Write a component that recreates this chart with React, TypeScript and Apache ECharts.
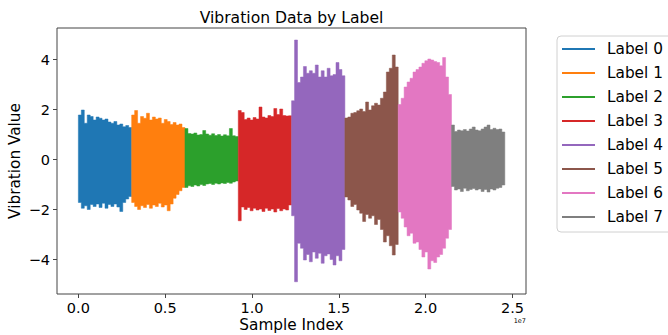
import React, { useEffect, useRef } from 'react';
import * as echarts from 'echarts';

const FONT = 'DejaVu Sans';

const labelNames = ['Label 0', 'Label 1', 'Label 2', 'Label 3', 'Label 4', 'Label 5', 'Label 6', 'Label 7'];
const labelColors = ['#1f77b4', '#ff7f0e', '#2ca02c', '#d62728', '#9467bd', '#8c564b', '#e377c2', '#7f7f7f'];

// samples per label segment
const SEGMENT_LENGTH = 3070000;

const xTickValues = [0, 5000000, 10000000, 15000000, 20000000, 25000000];
const yTickValues = [-4, -2, 0, 2, 4];

// Envelope (max / min of the vibration signal), evenly spaced along each segment
const label0Upper = [1.78, 1.98, 1.45, 1.78, 1.72, 1.58, 1.70, 1.65, 1.58, 1.62, 1.50, 1.45, 1.52, 1.38, 1.42, 1.31, 1.36, 1.28];
const label0Lower = [-1.72, -1.95, -1.85, -2.0, -1.80, -1.88, -1.78, -1.92, -1.75, -1.95, -1.80, -1.88, -1.78, -1.90, -2.08, -1.72, -1.58, -1.48];

const label1Upper = [1.78, 1.96, 1.45, 1.72, 1.65, 1.85, 1.58, 1.70, 1.62, 1.66, 1.45, 1.60, 1.52, 1.40, 1.48, 1.38, 1.42, 1.28];
const label1Lower = [-1.72, -1.88, -2.0, -1.85, -1.92, -1.80, -1.95, -1.82, -1.88, -1.75, -1.90, -1.82, -2.05, -1.78, -1.55, -1.40, -1.25, -1.12];

const label2Upper = [1.24, 1.04, 1.02, 1.06, 0.98, 1.00, 1.16, 1.02, 0.97, 1.03, 0.96, 1.00, 0.94, 0.99, 0.95, 1.24, 0.95, 0.92];
const label2Lower = [-1.12, -1.05, -1.08, -1.02, -1.06, -1.00, -1.04, -0.98, -0.96, -1.00, -0.95, -0.98, -0.94, -0.96, -0.92, -0.95, -0.90, -0.86];

const label3Upper = [1.96, 1.88, 1.60, 1.66, 1.58, 1.68, 1.62, 2.10, 1.70, 1.66, 1.76, 1.72, 2.04, 1.80, 2.02, 1.76, 1.74, 1.75];
const label3Lower = [-2.45, -1.90, -2.00, -1.92, -2.05, -1.95, -2.02, -1.98, -2.08, -1.95, -2.04, -1.98, -2.10, -1.96, -2.05, -1.98, -2.02, -1.82];

const label4Upper = [2.35, 4.78, 3.08, 3.30, 3.72, 3.45, 3.55, 3.45, 3.78, 3.30, 3.55, 3.30, 3.65, 3.35, 3.40, 3.88, 3.60, 3.35];
const label4Lower = [-2.25, -4.89, -3.35, -3.55, -4.02, -3.80, -4.09, -3.70, -3.95, -3.75, -4.15, -3.85, -3.78, -4.00, -4.22, -3.85, -4.05, -3.60];

const label5Upper = [1.66, 1.70, 1.85, 1.88, 1.95, 2.02, 1.92, 2.30, 1.98, 2.15, 2.25, 2.18, 2.45, 2.70, 3.50, 3.65, 4.18, 3.70];
const label5Lower = [-1.50, -1.62, -1.88, -1.80, -2.02, -2.15, -2.48, -2.20, -2.35, -2.25, -2.60, -2.40, -2.80, -3.30, -3.05, -3.45, -3.82, -3.40];

const label6Upper = [2.20, 2.45, 2.90, 3.10, 3.25, 3.50, 3.60, 3.70, 3.85, 3.95, 4.02, 3.98, 3.92, 3.88, 3.75, 4.08, 3.30, 2.60];
const label6Lower = [-2.10, -2.35, -2.70, -3.05, -2.95, -3.35, -3.30, -3.60, -3.90, -3.70, -4.38, -4.05, -4.12, -3.90, -3.80, -3.55, -3.15, -2.80];

const label7Upper = [1.38, 1.12, 1.18, 1.15, 1.20, 1.14, 1.22, 1.30, 1.18, 1.15, 1.22, 1.30, 1.38, 1.20, 1.25, 1.20, 1.22, 1.10];
const label7Lower = [-1.08, -1.22, -1.18, -1.28, -1.15, -1.25, -1.20, -1.16, -1.22, -1.18, -1.28, -1.20, -1.30, -1.18, -1.22, -1.15, -1.12, -1.02];

const upperEnvelopes = [label0Upper, label1Upper, label2Upper, label3Upper, label4Upper, label5Upper, label6Upper, label7Upper];
const lowerEnvelopes = [label0Lower, label1Lower, label2Lower, label3Lower, label4Lower, label5Lower, label6Lower, label7Lower];

const minus = (v: number) => (v < 0 ? '\u2212' + Math.abs(v) : String(v));

function buildSeries(k: number) {
  const upper = upperEnvelopes[k];
  const lower = lowerEnvelopes[k];
  const start = k * SEGMENT_LENGTH;
  const step = SEGMENT_LENGTH / upper.length;
  const data = upper.map((u, i) => [start + i * step, start + (i + 1) * step, u, lower[i]]);
  const color = labelColors[k];
  return {
    type: 'custom',
    name: labelNames[k],
    itemStyle: { color },
    encode: { x: [0, 1], y: [2, 3] },
    data,
    silent: true,
    renderItem: (params: any, api: any) => {
      if (params.dataIndex !== 0) return null;
      const top: number[][] = [];
      const bottom: number[][] = [];
      data.forEach((d) => {
        top.push(api.coord([d[0], d[2]]), api.coord([d[1], d[2]]));
        bottom.push(api.coord([d[0], d[3]]), api.coord([d[1], d[3]]));
      });
      return {
        type: 'polygon',
        shape: { points: top.concat(bottom.reverse()) },
        style: { fill: color, stroke: color, lineWidth: 0.5 },
      };
    },
  };
}

export default function App() {
  const ref = useRef<HTMLDivElement>(null);
  useEffect(() => {
    if (!ref.current) return;
    const chart = echarts.init(ref.current, undefined, { renderer: 'svg' });
    chart.setOption({
      animation: false,
      backgroundColor: '#ffffff',
      grid: { left: 57, right: 142, top: 28, bottom: 41, show: true, borderColor: '#444', borderWidth: 1, backgroundColor: 'transparent' },
      xAxis: {
        type: 'value',
        min: -1230000,
        max: 25780000,
        splitLine: { show: false },
        axisLine: { show: false, onZero: false },
        axisTick: { show: true, length: 4, customValues: xTickValues, lineStyle: { color: '#444' } },
        axisLabel: {
          customValues: xTickValues,
          formatter: (v: number) => (v / 1e7).toFixed(1),
          fontFamily: FONT,
          fontSize: 14.5,
          color: '#000',
          margin: 6,
        },
      },
      yAxis: {
        type: 'value',
        min: -5.38,
        max: 5.26,
        splitLine: { show: false },
        axisLine: { show: false, onZero: false },
        axisTick: { show: true, length: 4, customValues: yTickValues, lineStyle: { color: '#444' } },
        axisLabel: {
          customValues: yTickValues,
          formatter: (v: number) => minus(v),
          fontFamily: FONT,
          fontSize: 14.5,
          color: '#000',
          margin: 7,
        },
      },
      legend: {
        orient: 'vertical',
        left: 557,
        top: 36,
        selectedMode: false,
        data: labelNames.map((name) => ({ name, icon: 'rect' })),
        itemWidth: 33,
        itemHeight: 2,
        itemGap: 8,
        padding: [5, 16, 7, 5],
        borderColor: '#d0d0d0',
        borderWidth: 1,
        borderRadius: 4,
        textStyle: { fontFamily: FONT, fontSize: 15.3, color: '#000', lineHeight: 16, padding: [0, 0, 0, 7] },
      },
      graphic: [
        { type: 'text', x: 291.5, y: 17.5, style: { text: 'Vibration Data by Label', fill: '#000', fontFamily: FONT, fontSize: 15.6, align: 'center', verticalAlign: 'middle' } },
        { type: 'text', x: 291.5, y: 325, style: { text: 'Sample Index', fill: '#000', fontFamily: FONT, fontSize: 15.3, align: 'center', verticalAlign: 'middle' } },
        { type: 'text', x: 15, y: 161, rotation: Math.PI / 2, style: { text: 'Vibration Value', fill: '#000', fontFamily: FONT, fontSize: 15.3, align: 'center', verticalAlign: 'middle' } },
        { type: 'text', x: 526, y: 321, style: { text: '1e7', fill: '#000', fontFamily: FONT, fontSize: 6.5, align: 'right', verticalAlign: 'middle' } },
      ],
      series: labelNames.map((_, k) => buildSeries(k)),
    });
    return () => chart.dispose();
  }, []);
  return <div ref={ref} style={{ position: 'absolute', left: 0, top: 0, width: 668, height: 335 }} />;
}
